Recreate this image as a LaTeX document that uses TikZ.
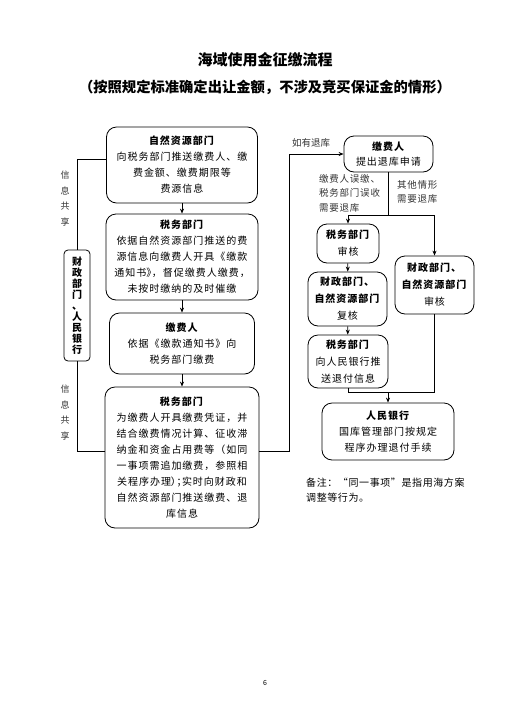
\documentclass[tikz,border=0pt]{standalone}
\usepackage{fontspec}
\setmainfont{Noto Sans CJK SC}
\usetikzlibrary{arrows.meta}
\newcommand{\halfpunct}[1]{\makebox[0.55em][l]{#1}}
\begin{document}
\begin{tikzpicture}[
  x=1pt, y=-1pt,
  every node/.style={
    align=center,
    inner sep=1pt
  },
  box/.style={
    draw,
    rounded corners=10pt,
    line width=0.8pt,
    font=\fontsize{10}{16}\selectfont\addfontfeature{LetterSpace=10}
  },
  smallbox/.style={
    box,
    font=\fontsize{10}{17}\selectfont\addfontfeature{LetterSpace=10}
  },
  share/.style={
    text=black!80,
    font=\fontsize{9}{15.5}\selectfont
  },
  remark/.style={
    align=left,
    font=\fontsize{10}{14.5}\selectfont\addfontfeature{LetterSpace=6}
  },
  line/.style={line width=0.8pt},
  arrow/.style={line width=0.8pt, -{Stealth[length=5pt,width=4pt]}}
]
\useasboundingbox (0,0) rectangle (531,705);

\node[font=\bfseries\fontsize{15}{18}\selectfont] (title) at (265,60) {海域使用金征缴流程};
\node[font=\bfseries\fontsize{14.3}{18}\selectfont] (subtitle) at (265,87) {（按照规定标准确定出让金额，不涉及竞买保证金的情形）};

\node[box, minimum width=151pt, minimum height=76pt] (zr) at (182,165)
  {\textbf{自然资源部门}\\向税务部门推送缴费人、缴\\费金额、缴费期限等\\费源信息};
\node[box, minimum width=152pt, minimum height=86pt] (sw1) at (182,257)
  {\textbf{税务部门}\\依据自然资源部门推送的费\\源信息向缴费人开具《缴款\\通知书\halfpunct{》}，督促缴费人缴费，\\未按时缴纳的及时催缴};
\node[box, minimum width=145pt, minimum height=61pt] (jf) at (182,343.5)
  {\textbf{缴费人}\\依据《缴款通知书》向\\税务部门缴费};
\node[box, minimum width=154pt, minimum height=141pt] (sw2) at (182,457.5)
  {\textbf{税务部门}\\为缴费人开具缴费凭证，并\\结合缴费情况计算、征收滞\\纳金和资金占用费等（如同\\一事项需追加缴费，参照相\\关程序办理\halfpunct{）}\halfpunct{；}实时向财政和\\自然资源部门推送缴费、退\\库信息};

\node[box, rounded corners=4pt, minimum width=26pt, minimum height=111pt,
  font=\bfseries\fontsize{10}{11}\selectfont] (cz) at (77,305.5)
  {财\\政\\部\\门\\、\\人\\民\\银\\行};
\node[share] (share1) at (65,198.5) {信\\息\\共\\享};
\node[share] (share2) at (65,412.5) {信\\息\\共\\享};

\node[smallbox, minimum width=89pt, minimum height=36pt] (tk) at (388.5,154)
  {\textbf{缴费人}\\[-2pt]提出退库申请};
\node[smallbox, minimum width=62pt, minimum height=39pt] (swsh) at (348,243.5)
  {\textbf{税务部门}\\审核};
\node[smallbox, minimum width=79pt, minimum height=54pt] (czfh) at (347.5,299)
  {\textbf{财政部门、}\\\textbf{自然资源部门}\\复核};
\node[smallbox, minimum width=80pt, minimum height=53pt] (swts) at (348,361.5)
  {\textbf{税务部门}\\向人民银行推\\送退付信息};
\node[smallbox, minimum width=79pt, minimum height=58pt] (czsh) at (434.5,285)
  {\textbf{财政部门、}\\\textbf{自然资源部门}\\审核};
\node[box, minimum width=132pt, minimum height=57pt] (rmyh) at (388,431.5)
  {\textbf{人民银行}\\国库管理部门按规定\\程序办理退付手续};

\node[share, anchor=west, font=\fontsize{9.5}{14.5}\selectfont] (ryth) at (291,143) {如有退库};
\node[share, anchor=north west, align=left, font=\fontsize{9.5}{14.5}\selectfont\addfontfeature{LetterSpace=8}] (wujiao) at (318,173)
  {缴费人误缴、\\税务部门误收\\需要退库};
\node[share, anchor=north west, align=left, font=\fontsize{9.5}{14.5}\selectfont\addfontfeature{LetterSpace=8}] (qita) at (396,179)
  {其他情形\\需要退库};
\node[remark, anchor=north west] (note) at (305,477)
  {备注：“同一事项”是指用海方案\\调整等行为。};
\node[font=\fontsize{7}{8}\selectfont] (page) at (265,683) {6};

\coordinate (fork) at (388.5,215);
\coordinate (join) at (388,392);
\coordinate (bend) at (289,154);

\draw[arrow] (zr) -- (sw1);
\draw[arrow] (sw1) -- (jf);
\draw[arrow] (jf) -- (sw2);
\draw[line] (cz.north) |- ([yshift=6pt]zr.west);
\draw[line] (cz.south) |- ([yshift=6pt]sw2.west);
\draw[line] ([yshift=6pt]sw2.east) -| (bend);
\draw[arrow] (bend) -- (tk.west);
\draw[line] (tk.south) -- (fork);
\draw[arrow] (fork) -| (swsh.north);
\draw[arrow] (fork) -| (czsh.north);
\draw[arrow] (swsh) -- (czfh);
\draw[arrow] (czfh) -- (swts);
\draw[line] (swts.south) |- (join);
\draw[line] (czsh.south) |- (join);
\draw[arrow] (join) -- (rmyh.north);
\end{tikzpicture}
\end{document}
